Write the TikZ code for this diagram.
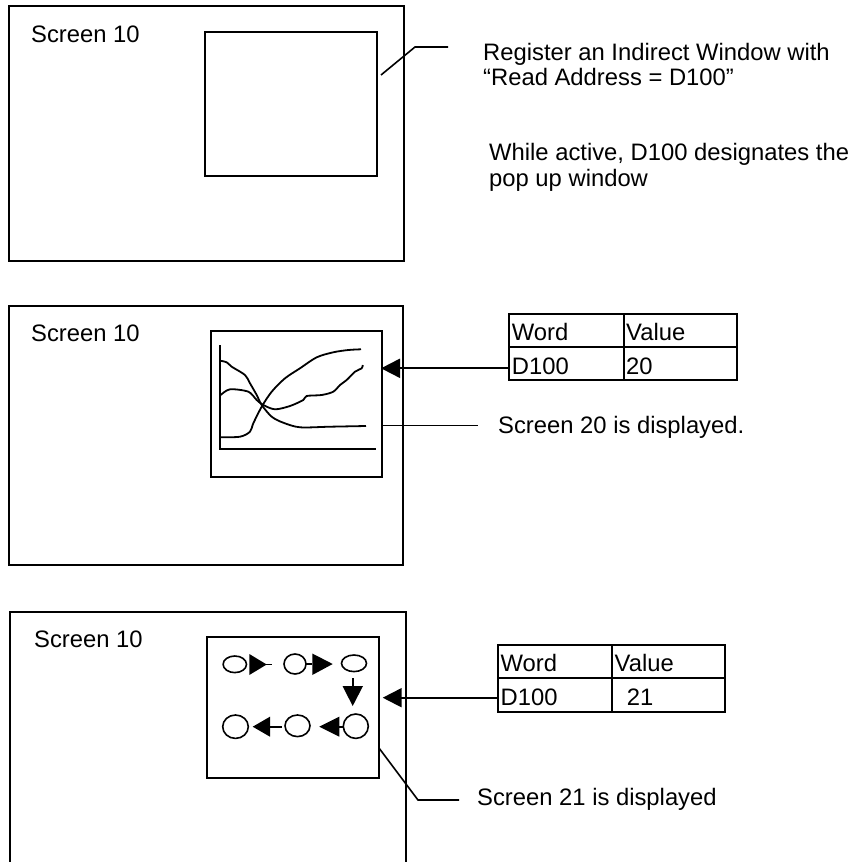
\documentclass[tikz,border=0pt]{standalone}
\usepackage{fontspec}
\setmainfont{Liberation Sans}
\usetikzlibrary{arrows.meta,shapes.geometric}
\begin{document}
\begin{tikzpicture}[x=1pt,y=-1pt,
  ln/.style={line width=2pt},
  box/.style={draw,line width=2pt,inner sep=0pt,rectangle},
  lbl/.style={inner sep=0pt,anchor=base west,font=\fontsize{23.8}{25}\selectfont},
  arr/.style={line width=2pt,-{Triangle[length=19pt,width=19pt]}},
  oval/.style={draw,ellipse,line width=1.6pt,inner sep=0pt},
  thin/.style={line width=1.6pt},
  crv/.style={line width=1.8pt,smooth,tension=0.5}]
\useasboundingbox (0,0) rectangle (854,862);
% ---------- Panel 1 ----------
\node[box,minimum width=395pt,minimum height=255pt] (p1) at (206.5,133.5) {};
\node[box,minimum width=172pt,minimum height=144pt] (w1) at (291,104) {};
\node[lbl] (s1) at (31,42) {Screen 10};
\node[lbl] (r1) at (483,60.7) {Register an Indirect Window with};
\node[lbl] (r2) at (483,85) {“Read Address = D100”};
\node[lbl] (a1) at (489,160.7) {While active, D100 designates the};
\node[lbl] (a2) at (489,186) {pop up window};
\coordinate (l1a) at (381,75);
\coordinate (l1b) at (415,47);
\coordinate (l1c) at (448,47);
\draw[thin] (l1a) -- (l1b) -- (l1c);
% ---------- Panel 2 ----------
\node[box,minimum width=394.3pt,minimum height=259pt] (p2) at (206.2,435.5) {};
\node[box,minimum width=171.6pt,minimum height=146pt] (w2) at (296.5,403.7) {};
\node[lbl] (s2) at (31,341) {Screen 10};
% graph
\coordinate (gy) at (220,345);
\coordinate (go) at (220,449.3);
\coordinate (gx) at (375.7,449.3);
\draw[crv] (gy) -- (go) -- (gx);
\draw[crv] plot coordinates {(220,437.3) (240,436.7) (250,431.7) (253.3,423.3) (261.7,406.7) (271.7,391.7) (285,378.3) (300,368.3) (316.7,357.3) (333.3,352.3) (348.3,350) (361,349.3)};
\draw[crv] plot coordinates {(220,360.7) (226.7,362.3) (231.7,366.7) (245,375) (250,383.3) (256.7,395) (261.7,405) (271.7,416.7) (283.3,422.7) (300,427.3) (330,426.7) (366,426)};
\draw[crv] plot coordinates {(220.7,395) (230,389.3) (248.3,391.7) (256.7,400) (263.3,405) (275,409.3) (290,406) (303.3,400) (306.7,396) (321.7,395) (333.3,391.7) (340,385) (346.7,380) (355,371.7) (361.7,368.3) (362.7,365)};
% table 2
\node[box,minimum width=227.4pt,minimum height=66pt] (t2) at (623,347) {};
\draw[ln] (624,314) -- (624,380);
\draw[ln] (509.3,346.7) -- (736.7,346.7);
\node[lbl] (t2a) at (511.7,340.7) {Word};
\node[lbl] (t2b) at (626,340.7) {Value};
\node[lbl] (t2c) at (511.7,374) {D100};
\node[lbl] (t2d) at (626,374) {20};
\coordinate (e2) at (381,368.3);
\draw[arr] (t2.west |- e2) -- (e2);
% leader 2
\coordinate (l2a) at (382.3,425.5);
\coordinate (l2b) at (478,425.5);
\draw[thin] (l2a) -- (l2b);
\node[lbl] (d2) at (498,433) {Screen 20 is displayed.};
% ---------- Panel 3 ----------
\coordinate (p3a) at (10,870);
\coordinate (p3b) at (10,612);
\coordinate (p3c) at (406,612);
\coordinate (p3d) at (406,870);
\draw[ln] (p3a) -- (p3b) -- (p3c) -- (p3d);
\node[box,minimum width=171.7pt,minimum height=141.6pt] (w3) at (293.2,707.5) {};
\node[lbl] (s3) at (34,647.3) {Screen 10};
% circles
\node[oval,minimum width=23.4pt,minimum height=16.6pt] (c1) at (234.8,664.3) {};
\node[oval,minimum width=22pt,minimum height=20pt] (c2) at (295,664) {};
\node[oval,minimum width=25pt,minimum height=16.6pt] (c3) at (354,663.3) {};
\node[oval,minimum width=25.6pt,minimum height=23.4pt] (c4) at (235.5,726.7) {};
\node[oval,minimum width=25pt,minimum height=21.6pt] (c5) at (297.5,725.8) {};
\node[oval,minimum width=25pt,minimum height=24.4pt] (c6) at (355.8,726.2) {};
% small arrows
\fill (249.3,654) -- (249.3,675) -- (266.7,664.5) -- cycle;
\draw[thin] (266,664.5) -- (271.7,664.5);
\draw[thin] (306,664) -- (312.3,664);
\fill (312.3,653.5) -- (312.3,675) -- (332.7,664) -- cycle;
\draw[thin] (352.7,678) -- (352.7,687);
\fill (342.5,686) -- (363,686) -- (352.7,706) -- cycle;
\fill (252.7,726.7) -- (270,716.7) -- (270,736.7) -- cycle;
\draw[thin] (269,726.7) -- (281.7,726.7);
\fill (319.3,726.7) -- (339.3,716.7) -- (339.3,736.7) -- cycle;
\draw[thin] (338,726.7) -- (343.3,726.7);
% table 3
\node[box,minimum width=227.3pt,minimum height=66.7pt] (t3) at (611.35,678.35) {};
\draw[ln] (611.7,645) -- (611.7,711.7);
\draw[ln] (497.7,677.7) -- (725,677.7);
\node[lbl] (t3a) at (500.5,671.7) {Word};
\node[lbl] (t3b) at (614.5,671.7) {Value};
\node[lbl] (t3c) at (500.5,705.7) {D100};
\node[lbl] (t3d) at (626.7,705.7) {21};
\coordinate (e3) at (382.7,697.7);
\draw[arr] (t3.west |- e3) -- (e3);
% leader 3
\coordinate (l3a) at (379,748);
\coordinate (l3b) at (418,800);
\coordinate (l3c) at (459,800);
\draw[thin] (l3a) -- (l3b) -- (l3c);
\node[lbl] (d3) at (477,805) {Screen 21 is displayed};
\end{tikzpicture}
\end{document}
